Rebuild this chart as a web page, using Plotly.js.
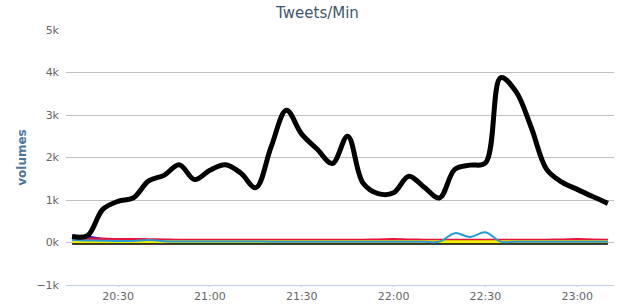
<!DOCTYPE html>
<html><head><meta charset="utf-8">
<script src="https://cdn.plot.ly/plotly-3.0.1.min.js"></script>
<style>html,body{margin:0;padding:0;background:#fff}#chart{width:635px;height:305px}</style>
</head><body><div id="chart"></div>
<script>
const times = ["20:15","20:20","20:25","20:30","20:35","20:40","20:45","20:50","20:55","21:00","21:05","21:10","21:15","21:20","21:25","21:30","21:35","21:40","21:45","21:50","21:55","22:00","22:05","22:10","22:15","22:20","22:25","22:30","22:35","22:40","22:45","22:50","22:55","23:00","23:05","23:10"];
const totalVolume = [140,160,780,970,1050,1450,1580,1830,1480,1700,1830,1640,1290,2250,3110,2550,2200,1860,2500,1400,1150,1170,1560,1300,1050,1720,1820,1870,3880,3550,2700,1720,1420,1250,1080,920];
const cyanVolume  = [60,50,40,35,35,60,30,25,25,25,25,25,25,20,20,20,20,20,20,20,20,20,20,20,20,220,130,240,20,20,20,20,20,20,20,20];
const blueVolume  = [150,130,70,60,55,50,45,40,40,40,40,40,40,40,40,40,40,40,40,40,40,40,40,40,40,40,40,40,40,40,40,40,40,40,40,40];
const redVolume   = [100,90,80,70,70,65,60,55,55,55,55,55,55,55,55,55,55,55,55,55,60,70,60,55,55,55,55,55,55,55,55,55,60,70,60,55];
const greenVolume = [40,35,30,30,30,30,30,30,30,30,30,30,30,30,30,30,30,30,30,30,30,30,30,30,30,30,30,30,30,30,30,30,30,30,30,30];
const yellowVolume= [20,20,20,20,20,20,20,20,20,20,20,20,20,20,20,20,20,20,20,20,20,20,20,20,20,20,20,20,20,20,20,20,20,20,20,20];
const zeroVolume  = [-15,-15,-15,-15,-15,-15,-15,-15,-15,-15,-15,-15,-15,-15,-15,-15,-15,-15,-15,-15,-15,-15,-15,-15,-15,-15,-15,-15,-15,-15,-15,-15,-15,-15,-15,-15];
const yTickVals = [-1000,0,1000,2000,3000,4000,5000];
const yTickText = ["−1k","0k","1k","2k","3k","4k","5k"];

const xs = times.map(t => "2013-01-01 " + t);
function tr(y, color, width) {
  return {x: xs, y: y, type: "scatter", mode: "lines",
    line: {color: color, width: width, shape: "spline", smoothing: 1}, hoverinfo: "skip"};
}
const data = [
  tr(zeroVolume, "#000000", 3),
  tr(greenVolume, "#7fd13b", 2),
  tr(blueVolume, "#0000ee", 3),
  tr(redVolume, "#e8153a", 3),
  tr(yellowVolume, "#f0f000", 3),
  tr(cyanVolume, "#2a9ad6", 2),
  tr(totalVolume, "#000000", 5)
];
const layout = {
  width: 635, height: 305,
  margin: {l: 66, r: 21, t: 30, b: 20},
  paper_bgcolor: "#fff", plot_bgcolor: "#fff",
  showlegend: false,
  font: {family: "DejaVu Sans, sans-serif", size: 11, color: "#666"},
  title: {text: "Tweets/Min", x: 0.5, xanchor: "center", y: 0.975, yanchor: "top",
    font: {family: "DejaVu Sans, sans-serif", size: 15, color: "#3e576f"}},
  xaxis: {type: "date", range: ["2013-01-01 20:13", "2013-01-01 23:12"],
    tick0: "2013-01-01 20:30", dtick: 1800000, tickformat: "%H:%M",
    showgrid: false, zeroline: false, showline: true, linecolor: "#C0D0E0", linewidth: 1,
    ticks: "outside", ticklen: 1, tickcolor: "#C0D0E0",
    tickfont: {size: 11, color: "#666"}},
  yaxis: {range: [-1000, 5000], tickvals: yTickVals, ticktext: yTickText,
    showgrid: true, gridcolor: "#C0C0C0", gridwidth: 1, zeroline: false,
    showline: false, ticks: "", ticklen: 0, ticklabelstandoff: 6,
    tickfont: {size: 11, color: "#666"},
    title: {text: "<b>volumes</b>", standoff: 7, font: {size: 12, color: "#4d759e"}}}
};
Plotly.newPlot("chart", data, layout, {staticPlot: true});
</script></body></html>
